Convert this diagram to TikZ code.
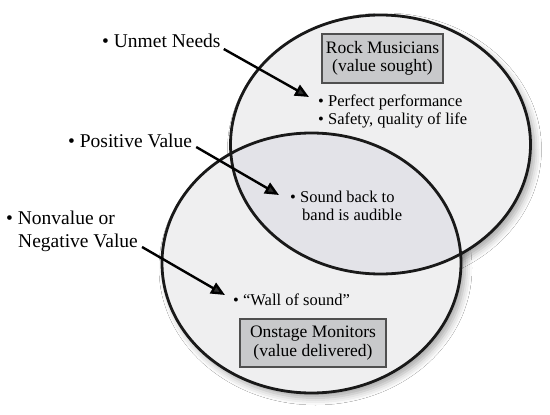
\documentclass[tikz,border=0pt]{standalone}
\usepackage{fontspec}
\setmainfont{Liberation Serif}
\usetikzlibrary{arrows.meta,shadows.blur}
\definecolor{vennfill}{HTML}{EFEFF0}
\definecolor{vennmid}{HTML}{E3E3E8}
\definecolor{boxfill}{HTML}{C8C9CB}
\definecolor{boxline}{HTML}{4F4F4F}
\begin{document}
\begin{tikzpicture}[x=1pt,y=-1pt,
  bigtxt/.style={anchor=base west, inner sep=0pt, font=\fontsize{19.5}{23}\selectfont},
  itemtxt/.style={anchor=base west, inner sep=0pt, font=\fontsize{16.5}{18}\selectfont},
  labelbox/.style={draw=boxline, line width=1.5pt, fill=boxfill, align=center, inner sep=0pt, font=\fontsize{17.5}{18.5}\selectfont},
  arr/.style={line width=2.4pt, -{Triangle[length=14pt,width=12pt]}},
  venn/.style={line width=2.8pt, draw=black!90},
  vshadow/.style={blur shadow={shadow xshift=4pt, shadow yshift=-5pt, shadow blur radius=7pt, shadow opacity=35}},
]
\useasboundingbox (0,0) rectangle (550,415);
\fill[white] (0,0) rectangle (550,415);
\coordinate (upc) at (380.5,144.5);
\coordinate (loc) at (311.5,263);
% shadows
\path[vshadow] (upc) ellipse [x radius=150pt, y radius=129.5pt];
\path[vshadow] (loc) ellipse [x radius=149.5pt, y radius=130pt];
% fills
\fill[vennfill] (upc) ellipse [x radius=150pt, y radius=129.5pt];
\fill[vennfill] (loc) ellipse [x radius=149.5pt, y radius=130pt];
\begin{scope}
  \clip (upc) ellipse [x radius=150pt, y radius=129.5pt];
  \fill[vennmid] (loc) ellipse [x radius=149.5pt, y radius=130pt];
\end{scope}
% outlines
\draw[venn] (upc) ellipse [x radius=150pt, y radius=129.5pt];
\draw[venn] (loc) ellipse [x radius=149.5pt, y radius=130pt];

% label boxes
\node[labelbox, minimum width=121pt, minimum height=49pt] (rock) at (382.5,58.5) {Rock Musicians\\(value sought)};
\node[labelbox, minimum width=146pt, minimum height=48pt] (mon) at (313,343) {Onstage Monitors\\(value delivered)};

% item texts
\node[itemtxt] (pp) at (318,106) {• Perfect performance};
\node[itemtxt] (sq) at (318,124) {• Safety, quality of life};
\node[itemtxt] (sb1) at (290,202) {• Sound back to};
\node[itemtxt] (sb2) at (302,220) {band is audible};
\node[itemtxt] (ws) at (233,305) {• “Wall of sound”};

% outside labels
\node[bigtxt] (un) at (102,48) {• Unmet Needs};
\node[bigtxt] (pv) at (68,147) {• Positive Value};
\node[bigtxt] (nv1) at (6,224) {• Nonvalue or};
\node[bigtxt] (nv2) at (18,247) {Negative Value};

% arrows
\coordinate (t1) at (309,97);
\coordinate (t2) at (279,195);
\coordinate (t3) at (225,295);
\draw[arr] ([shift={(3,1)}]un.base east) -- (t1);
\draw[arr] ([shift={(4,0)}]pv.base east) -- (t2);
\draw[arr] ([shift={(4,0)}]nv2.base east) -- (t3);
\end{tikzpicture}
\end{document}
